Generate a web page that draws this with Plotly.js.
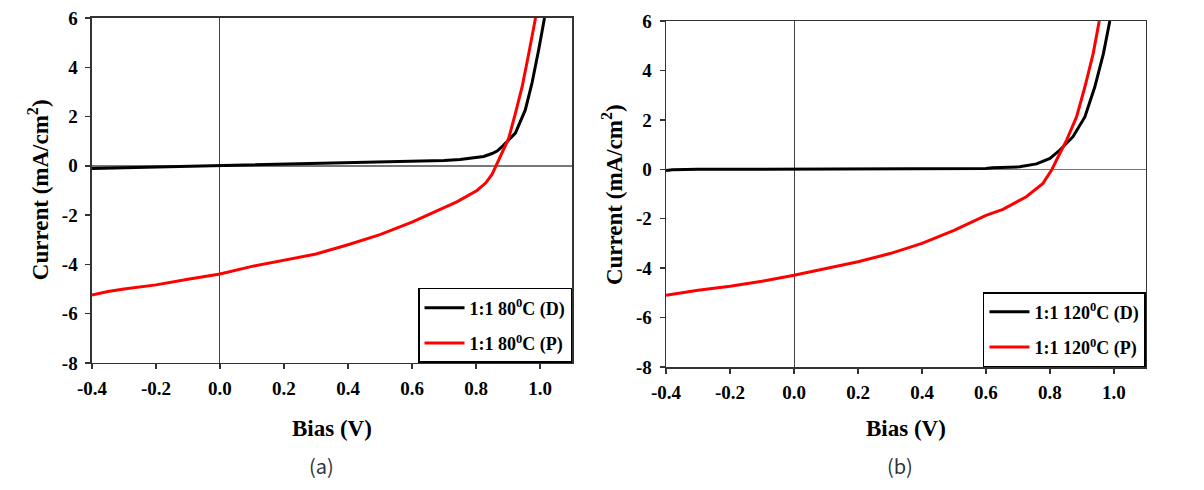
<!DOCTYPE html>
<html>
<head>
<meta charset="utf-8">
<script src="https://cdn.plot.ly/plotly-3.0.1.min.js"></script>
<style>
  html, body { margin: 0; padding: 0; background: #fff; }
  #chart { width: 1204px; height: 490px; }
</style>
</head>
<body>
<div id="chart"></div>
<script>
// (a) 1:1 80C
const biasA_D = [-0.4, -0.3, -0.2, -0.1, 0.0, 0.1, 0.2, 0.3, 0.4, 0.5, 0.6, 0.7, 0.75, 0.8, 0.824, 0.85, 0.866, 0.885, 0.897, 0.923, 0.954, 0.975, 0.996, 1.014];
const curA_D  = [-0.11, -0.08, -0.05, -0.02, 0.02, 0.04, 0.06, 0.08, 0.12, 0.14, 0.17, 0.22, 0.26, 0.33, 0.38, 0.5, 0.6, 0.82, 0.99, 1.33, 2.27, 3.36, 4.72, 6.0];
const biasA_P = [-0.4, -0.35, -0.3, -0.2, -0.1, 0.0, 0.1, 0.2, 0.3, 0.4, 0.5, 0.6, 0.688, 0.74, 0.803, 0.83, 0.85, 0.862, 0.876, 0.902, 0.923, 0.944, 0.965, 0.986];
const curA_P  = [-5.24, -5.1, -5.0, -4.83, -4.6, -4.39, -4.08, -3.84, -3.58, -3.2, -2.79, -2.28, -1.77, -1.46, -1.0, -0.7, -0.35, 0.0, 0.37, 1.11, 2.13, 3.2, 4.57, 6.0];

// (b) 1:1 120C
const biasB_D = [-0.4, -0.38, -0.3, -0.2, -0.1, 0.0, 0.1, 0.2, 0.3, 0.4, 0.5, 0.6, 0.62, 0.705, 0.758, 0.8, 0.831, 0.872, 0.909, 0.94, 0.967, 0.987];
const curB_D  = [-0.05, -0.02, 0.0, 0.0, 0.0, 0.0, 0.0, 0.0, 0.0, 0.0, 0.01, 0.03, 0.06, 0.1, 0.22, 0.44, 0.78, 1.32, 2.12, 3.33, 4.68, 6.0];
const biasB_P = [-0.4, -0.3, -0.2, -0.1, 0.0, 0.1, 0.2, 0.3, 0.4, 0.5, 0.6, 0.653, 0.726, 0.778, 0.805, 0.831, 0.852, 0.883, 0.909, 0.935, 0.954];
const curB_P  = [-5.1, -4.89, -4.73, -4.53, -4.29, -4.02, -3.74, -3.41, -3.0, -2.47, -1.86, -1.62, -1.11, -0.57, -0.03, 0.65, 1.18, 2.12, 3.33, 4.68, 6.0];

const namesA = ['1:1 80<sup>0</sup>C (D)', '1:1 80<sup>0</sup>C (P)'];
const namesB = ['1:1 120<sup>0</sup>C (D)', '1:1 120<sup>0</sup>C (P)'];
const xTicks = [-0.4, -0.2, 0.0, 0.2, 0.4, 0.6, 0.8, 1.0];
const xTickText = ['-0.4', '-0.2', '0.0', '0.2', '0.4', '0.6', '0.8', '1.0'];
const yTicks = [-8, -6, -4, -2, 0, 2, 4, 6];
const yTickText = ['-8', '-6', '-4', '-2', '0', '2', '4', '6'];

const serif = 'Liberation Serif, Times New Roman, serif';
const tickFont = { family: serif, size: 19, color: '#000', weight: 700 };

function line(x, y, name, color, xa, ya, lg, grp) {
    return {
        x: x, y: y, name: name,
        type: 'scatter', mode: 'lines',
        line: { color: color, width: 3 },
        xaxis: xa, yaxis: ya, legend: lg, legendgroup: grp
    };
}

const data = [
    line(biasA_D, curA_D, namesA[0], '#000000', 'x', 'y', 'legend', 'aD'),
    line(biasA_P, curA_P, namesA[1], '#ff0000', 'x', 'y', 'legend', 'aP'),
    line(biasB_D, curB_D, namesB[0], '#000000', 'x2', 'y2', 'legend2', 'bD'),
    line(biasB_P, curB_P, namesB[1], '#ff0000', 'x2', 'y2', 'legend2', 'bP'),
];

function xAxis(domain, anchor) {
    return {
        domain: domain, anchor: anchor,
        range: [-0.4, 1.1],
        tickmode: 'array', tickvals: xTicks, ticktext: xTickText,
        ticks: 'outside', ticklen: 5, tickwidth: 1.5, tickcolor: '#333',
        ticklabelstandoff: 3,
        showline: true, linecolor: '#333', linewidth: 1.5, mirror: true,
        showgrid: false,
        zeroline: true, zerolinecolor: '#444', zerolinewidth: 1,
        tickfont: tickFont,
        fixedrange: true
    };
}
function yAxis(domain, anchor) {
    return {
        domain: domain, anchor: anchor,
        range: [-8, 6],
        tickmode: 'array', tickvals: yTicks, ticktext: yTickText,
        ticks: 'outside', ticklen: 5, tickwidth: 1.5, tickcolor: '#333',
        ticklabelstandoff: 4,
        showline: true, linecolor: '#333', linewidth: 1.5, mirror: true,
        showgrid: false,
        zeroline: true, zerolinecolor: '#777', zerolinewidth: 1.5,
        tickfont: tickFont,
        fixedrange: true
    };
}
function legendBox(x, y) {
    return {
        x: x, y: y, xanchor: 'right', yanchor: 'bottom',
        bgcolor: '#fff', bordercolor: '#000', borderwidth: 1.5,
        font: { family: serif, size: 18, color: '#000', weight: 700 },
        traceorder: 'grouped', tracegroupgap: 9, itemwidth: 40
    };
}

const titleFont = { family: serif, size: 23, color: '#000', weight: 700 };
const capFont = { family: 'Noto Sans CJK SC, sans-serif', size: 20, color: '#333' };

function note(text, x, y, font, angle) {
    return {
        text: text, x: x, y: y, xref: 'paper', yref: 'paper',
        xanchor: 'center', yanchor: 'middle',
        showarrow: false, textangle: angle || 0, font: font
    };
}

const layout = {
    width: 1204, height: 490,
    margin: { l: 0, r: 0, t: 0, b: 0 },
    paper_bgcolor: '#fff', plot_bgcolor: '#fff',
    font: { family: serif, size: 18, color: '#000' },
    showlegend: true,
    xaxis: xAxis([0.0764, 0.4751], 'y'),
    yaxis: yAxis([0.2592, 0.9633], 'x'),
    xaxis2: xAxis([0.5532, 0.9518], 'y2'),
    yaxis2: yAxis([0.251, 0.9571], 'x2'),
    legend: legendBox(0.4751, 0.2592),
    legend2: legendBox(0.9518, 0.251),
    annotations: [
        note('Bias (V)', 0.2757, 0.1265, titleFont),
        note('Bias (V)', 0.7525, 0.1265, titleFont),
        note('Current (mA/cm<sup>2</sup>)', 0.0316, 0.612, titleFont, -90),
        note('Current (mA/cm<sup>2</sup>)', 0.5083, 0.604, titleFont, -90),
        note('(a)', 0.2674, 0.049, capFont),
        note('(b)', 0.7475, 0.049, capFont),
    ]
};

Plotly.newPlot('chart', data, layout, { displayModeBar: false, staticPlot: true });
</script>
</body>
</html>
